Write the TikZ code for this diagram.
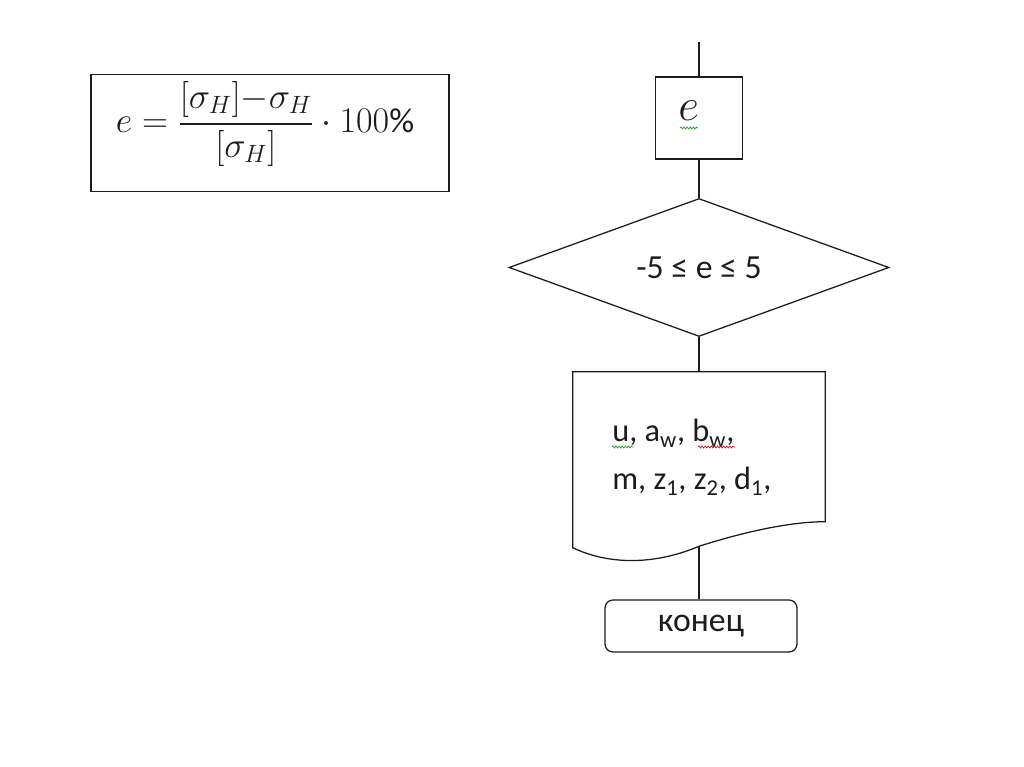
\documentclass[tikz,border=0pt]{standalone}
\usepackage{amsmath}
\usepackage{fontspec}
\setmainfont{Carlito}
\usepackage{tikz}
\usetikzlibrary{shapes.geometric,decorations.pathmorphing}
\definecolor{FlowInk}{HTML}{1C1C1C}
\definecolor{SpellGreen}{HTML}{1FA01F}
\definecolor{SpellRed}{HTML}{E01010}

\begin{document}
\begin{tikzpicture}[
  text=FlowInk,
  flowline/.style={draw=FlowInk,line width=0.9pt},
  blockbox/.style={flowline,rectangle,inner sep=0pt},
  checkbox/.style={flowline,diamond,aspect=2.8,inner sep=0pt,font=\fontsize{24}{28}\selectfont},
  endbox/.style={flowline,rectangle,rounded corners=2mm,inner sep=0pt,
                 font=\fontsize{24}{28}\selectfont},
  bodytext/.style={font=\fontsize{23}{28}\selectfont,inner sep=0pt},
  spellmark/.style={decorate,decoration={snake,segment length=2.2pt,amplitude=0.7pt},
                    line width=0.5pt},
]
  \useasboundingbox (0,0) rectangle (25.6,19.175);

  % formula block
  \node[blockbox,line width=1.2pt,minimum width=8.95cm,minimum height=2.925cm]
    (formulabox) at (6.75,15.85) {};
  \node[inner sep=0pt,font=\fontsize{24}{28}\selectfont,scale=1.03] (formula) at (6.625,16.075)
    {$e=\dfrac{[\sigma_H]{-}\sigma_H}{[\sigma_H]}\cdot 100\%$};

  % flow chart
  \coordinate (start) at (17.475,18.125);
  \node[blockbox,minimum width=2.175cm,minimum height=2.05cm] (ebox) at (17.475,16.225) {};
  \node[inner sep=0pt,font=\fontsize{24}{28}\selectfont,scale=1.3] (elabel) at (17.22,16.4) {$e$};
  \node[checkbox,minimum width=9.5cm,minimum height=3.45cm] (check) at (17.475,12.4875)
    {-5 ≤ e ≤ 5};
  \node[inner sep=0pt,minimum width=6.3cm,minimum height=4.35cm] (doc) at (17.475,7.7) {};
  \draw[flowline] (doc.north west) -- (doc.north east) -- ([yshift=-3.75cm]doc.north east)
    .. controls +(-0.9,0) and +(1.1,0.35) .. (doc.south)
    .. controls +(-1.0,-0.425) and +(1.0,-0.475) .. ([yshift=-4.4cm]doc.north west) -- cycle;
  \node[bodytext,anchor=base west] (docA) at (15.3,8.125)
    {u, a\textsubscript{w}, b\textsubscript{w},};
  \node[bodytext,anchor=base west] (docB) at (15.3,6.925)
    {m, z\textsubscript{1}, z\textsubscript{2}, d\textsubscript{1},};
  \node[endbox,minimum width=4.8cm,minimum height=1.3cm] (finish) at (17.525,3.525) {конец};

  \draw[flowline] (start) -- (ebox.north);
  \draw[flowline] (ebox.south) -- (check.north);
  \draw[flowline] (check.south) -- (doc.north);
  \draw[flowline] (doc.south) -- (doc.south |- finish.north);

  % spell-check marks
  \draw[spellmark,SpellGreen] (17.0,15.975) -- (17.45,15.975);
  \draw[spellmark,SpellGreen] (15.3,8.0) -- (15.825,8.0);
  \draw[spellmark,SpellRed] (17.45,8.0) -- (18.375,8.0);
\end{tikzpicture}
\end{document}
